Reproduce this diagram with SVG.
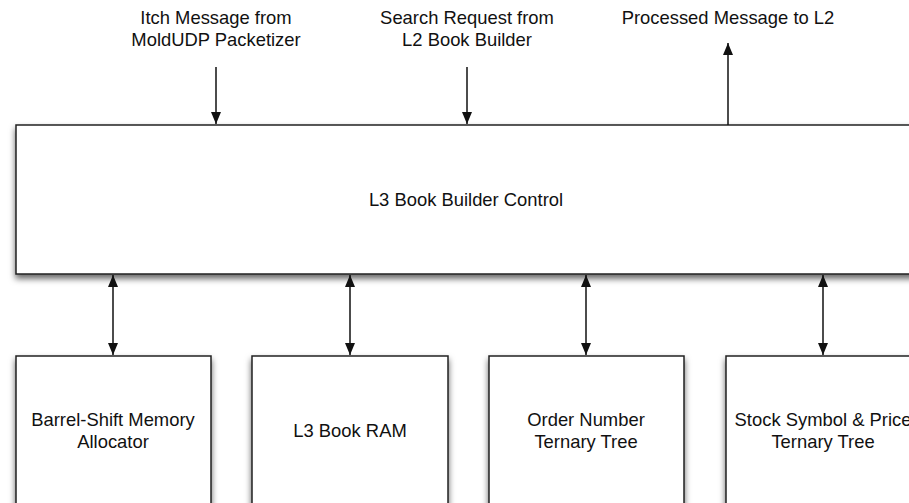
<svg xmlns="http://www.w3.org/2000/svg" width="909" height="503" viewBox="0 0 909 503">
<style>
.box{fill:#fff;stroke:#222;stroke-width:1.5;filter:url(#sh)}
.t{font-family:"Liberation Sans",Arial,Helvetica,sans-serif;font-size:18.4px;fill:#111;text-anchor:middle}
.c{stroke:#111;stroke-width:1.5;fill:none}
</style>
<defs>
<filter id="sh" x="-10%" y="-10%" width="130%" height="130%">
<feDropShadow dx="0" dy="4" stdDeviation="3" flood-color="#000" flood-opacity="0.6"/>
</filter>
<marker id="ah" viewBox="0 0 12 10" refX="12" refY="5" markerWidth="12" markerHeight="10" markerUnits="userSpaceOnUse" orient="auto-start-reverse">
<path d="M0,0 L12,5 L0,10 z" fill="#111"/>
</marker>
</defs>
<g id="labels">
<text class="t" x="216" y="24">Itch Message from</text>
<text class="t" x="216" y="46">MoldUDP Packetizer</text>
<text class="t" x="467" y="24">Search Request from</text>
<text class="t" x="467" y="46">L2 Book Builder</text>
<text class="t" x="728" y="24">Processed Message to L2</text>
</g>
<g id="control">
<rect class="box" x="16" y="125" width="910" height="149"/>
<text class="t" x="466" y="206">L3 Book Builder Control</text>
</g>
<g id="barrel">
<rect class="box" x="16" y="356" width="195" height="170"/>
<text class="t" x="113" y="426">Barrel-Shift Memory</text>
<text class="t" x="113" y="448">Allocator</text>
</g>
<g id="ram">
<rect class="box" x="252" y="356" width="196" height="170"/>
<text class="t" x="350" y="437">L3 Book RAM</text>
</g>
<g id="order">
<rect class="box" x="489" y="356" width="195" height="170"/>
<text class="t" x="586" y="426">Order Number</text>
<text class="t" x="586" y="448">Ternary Tree</text>
</g>
<g id="stock">
<rect class="box" x="726" y="356" width="195" height="170"/>
<text class="t" x="823" y="426">Stock Symbol &amp; Price</text>
<text class="t" x="823" y="448">Ternary Tree</text>
</g>
<g id="connectors">
<line class="c" x1="216" y1="67" x2="216" y2="124" marker-end="url(#ah)"/>
<line class="c" x1="467" y1="67" x2="467" y2="124" marker-end="url(#ah)"/>
<line class="c" x1="728" y1="125" x2="728" y2="43" marker-end="url(#ah)"/>
<line class="c" x1="113" y1="275" x2="113" y2="355" marker-start="url(#ah)" marker-end="url(#ah)"/>
<line class="c" x1="350" y1="275" x2="350" y2="355" marker-start="url(#ah)" marker-end="url(#ah)"/>
<line class="c" x1="586" y1="275" x2="586" y2="355" marker-start="url(#ah)" marker-end="url(#ah)"/>
<line class="c" x1="823" y1="275" x2="823" y2="355" marker-start="url(#ah)" marker-end="url(#ah)"/>
</g>
</svg>
